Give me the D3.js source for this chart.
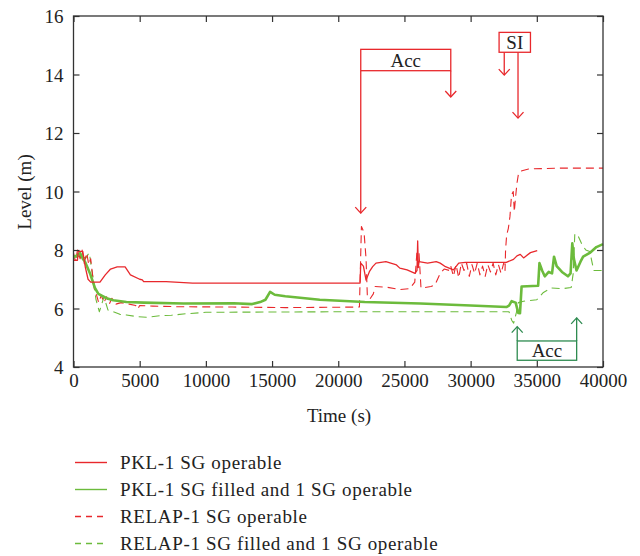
<!DOCTYPE html>
<html><head><meta charset="utf-8">
<script src="https://cdn.jsdelivr.net/npm/d3@7"></script>
<style>
body{margin:0;background:#fff;}
svg text{font-family:"Liberation Serif","Times New Roman",serif;fill:#222;}
</style></head>
<body><svg id="c" width="640" height="556"></svg>
<script>
// ---- data ----
const xTicks = [0,5000,10000,15000,20000,25000,30000,35000,40000];
const yTicks = [4,6,8,10,12,14,16];
const seriesNames = ["PKL-1 SG operable","PKL-1 SG filled and 1 SG operable","RELAP-1 SG operable","RELAP-1 SG filled and 1 SG operable"];

const pklOne = [[0,7.65],[300,7.65],[350,7.95],[700,7.95],[900,7.4],[1100,7.0],[1300,6.9],[2000,6.9],[2400,7.15],[2800,7.35],[3300,7.42],[3900,7.42],[4300,7.15],[5000,7.0],[5200,6.98],[5300,6.92],[7000,6.92],[9000,6.87],[21650,6.87],[21700,7.55],[21900,7.45],[22100,6.97],[22350,7.26],[22600,7.43],[22850,7.55],[23600,7.6],[24400,7.49],[24650,7.38],[25200,7.32],[25800,7.2],[25950,7.3],[26000,8.31],[26050,7.4],[26100,7.6],[26750,7.55],[27400,7.6],[27700,7.55],[28100,7.43],[28700,7.32],[29100,7.55],[29600,7.58],[32700,7.58],[33240,7.68],[33500,7.8],[33750,7.85],[34000,7.73],[34520,7.91],[35030,7.98]];

const pklFilled = [[0,7.75],[200,7.8],[500,7.9],[700,7.7],[870,7.6],[1250,7.2],[1620,6.7],[1880,6.5],[2500,6.35],[3000,6.28],[4000,6.22],[5300,6.2],[8300,6.17],[12100,6.18],[13500,6.15],[14100,6.22],[14500,6.3],[14850,6.57],[15200,6.47],[16000,6.42],[18600,6.3],[22000,6.22],[26200,6.17],[30000,6.1],[32700,6.05],[32900,6.1],[33100,6.25],[33400,6.2],[33600,5.85],[33730,5.84],[33850,6.75],[35100,6.78],[35200,7.55],[35400,7.3],[35600,7.1],[35900,7.25],[36150,7.2],[36300,7.77],[36500,7.45],[36900,7.25],[37350,7.1],[37550,7.2],[37680,8.23],[37800,7.7],[38000,7.3],[38300,7.6],[38500,7.77],[39000,7.9],[39500,8.1],[40000,8.2]];

const relapOne = [[0,7.9],[150,7.6],[300,8.0],[500,7.7],[650,8.0],[800,7.55],[1000,7.9],[1150,7.5],[1300,7.7],[1450,7.1],[1600,6.6],[1750,6.45],[1900,6.2],[2100,6.45],[2300,6.2],[2500,6.4],[2700,6.15],[2900,6.35],[3200,6.15],[3600,6.2],[4200,6.15],[4700,6.1],[4850,5.98],[5000,6.1],[6000,6.08],[8000,6.06],[12000,6.05],[16000,6.03],[21600,6.05],[21750,8.8],[21950,8.6],[22100,7.7],[22200,6.4],[22400,6.33],[22650,6.5],[22780,6.75],[23650,6.73],[24660,6.65],[25400,6.68],[25780,6.9],[25950,7.97],[26100,7.9],[26250,6.7],[27000,6.75],[27300,6.8],[27700,7.2],[28000,7.35],[28400,7.3],[28500,7.45],[28700,7.1],[28900,7.5],[29100,7.05],[29300,7.55],[29500,7.3],[29700,7.55],[29900,7.1],[30100,7.5],[30300,7.2],[30500,7.55],[30700,7.15],[30900,7.45],[31100,7.1],[31300,7.5],[31500,7.25],[31700,7.55],[31900,7.15],[32100,7.5],[32300,7.2],[32500,7.55],[32600,7.3],[32640,8.0],[32720,8.51],[32850,8.74],[32970,9.14],[33090,9.88],[33220,10.0],[33300,9.31],[33400,9.83],[33500,10.28],[33620,10.62],[33880,10.71],[34380,10.77],[36640,10.8],[40000,10.8]];

const relapFilled = [[0,7.8],[300,7.75],[600,7.85],[900,7.7],[1100,7.85],[1200,7.9],[1350,7.4],[1500,7.0],[1700,6.3],[1950,5.89],[2100,6.1],[2300,6.4],[2600,5.95],[3000,5.89],[3500,5.8],[4000,5.78],[4800,5.72],[5500,5.7],[6500,5.75],[7400,5.77],[8500,5.82],[10000,5.87],[15000,5.88],[21700,5.89],[32900,5.89],[33100,5.6],[33250,5.5],[33450,5.85],[33600,6.2],[34000,6.25],[35000,6.3],[35500,6.55],[36100,6.7],[37000,6.68],[37600,6.72],[37750,7.2],[37870,8.55],[38100,8.5],[38400,8.2],[38700,8.0],[39000,7.95],[39300,7.3],[40000,7.3]];

// annotation boxes: [label, tLeft, tRight, vTop, vBottom]
const accRed = ["Acc",21700,28500,14.86,14.13];
const siBox  = ["SI",32150,34520,15.44,14.76];
const accGreen = ["Acc",33520,38010,4.89,4.23];
// arrows: [t, vFrom, vTo]
const redArrows = [[21700,14.13,9.26],[28500,14.13,13.23],[32540,14.76,13.98],[33580,14.76,12.51]];
const greenArrows = [[33520,4.89,5.38],[38010,4.89,5.68]];

// ---- drawing ----
const RED="#e8282c", GREEN="#6cbb3c", DKGREEN="#2e8b50";
const svg=d3.select("#c");
const L=73.5,R=603,T=16,B=367;
const x=d3.scaleLinear().domain([0,40000]).range([L,R]);
const y=d3.scaleLinear().domain([4,16]).range([B,T]);
const line=d3.line().x(d=>x(d[0])).y(d=>y(d[1]));

const series=[
 {data:relapFilled,color:GREEN,dash:"8,5",w:1.1},
 {data:relapOne,color:RED,dash:"8,5",w:1.1},
 {data:pklFilled,color:GREEN,dash:null,w:2.6},
 {data:pklOne,color:RED,dash:null,w:1.3}
];
const g=svg.append("g");
series.forEach(s=>{
  g.append("path").attr("d",line(s.data)).attr("fill","none").attr("stroke",s.color)
   .attr("stroke-width",s.w).attr("stroke-dasharray",s.dash).attr("stroke-linejoin","round");
});

// axes (inward ticks, all sides)
const ax=(a)=>a.tickSizeInner(-6).tickSizeOuter(0).tickPadding(10);
const fs="19px";
const bx=svg.append("g").attr("transform",`translate(0,${B})`).call(ax(d3.axisBottom(x).tickValues(xTicks).tickFormat(d3.format("d"))));
const tx=svg.append("g").attr("transform",`translate(0,${T})`).call(ax(d3.axisTop(x).tickValues(xTicks)).tickFormat(""));
const ly=svg.append("g").attr("transform",`translate(${L},0)`).call(ax(d3.axisLeft(y).tickValues(yTicks)));
const ry=svg.append("g").attr("transform",`translate(${R},0)`).call(ax(d3.axisRight(y).tickValues(yTicks)).tickFormat(""));
[bx,tx,ly,ry].forEach(a=>{
  a.select(".domain").remove();
  a.selectAll("line").attr("stroke","#333").attr("stroke-width",1.2);
  a.selectAll("text").style("font-family",'"Liberation Serif",serif').style("font-size",fs).attr("fill","#222");
});
bx.selectAll("text").attr("dy","0.6em").attr("y",9);
ly.selectAll("text").attr("x",-10).attr("dy","0.35em");
svg.append("rect").attr("x",L).attr("y",T).attr("width",R-L).attr("height",B-T)
  .attr("fill","none").attr("stroke","#333").attr("stroke-width",1.3);

// axis titles
svg.append("text").attr("x",339).attr("y",422).attr("text-anchor","middle").style("font-size",fs).text("Time (s)");
svg.append("text").attr("transform","translate(31,192) rotate(-90)").attr("text-anchor","middle").style("font-size",fs).text("Level (m)");

// annotations
function box(b,color){
  const [lab,t0,t1,v0,v1]=b;
  svg.append("rect").attr("x",x(t0)).attr("y",y(v0)).attr("width",x(t1)-x(t0)).attr("height",y(v1)-y(v0))
    .attr("fill","#fff").attr("stroke",color).attr("stroke-width",1.3);
  svg.append("text").attr("x",(x(t0)+x(t1))/2).attr("y",(y(v0)+y(v1))/2).attr("dy","0.35em")
    .attr("text-anchor","middle").style("font-size","19px").text(lab);
}
function arrow(a,color){
  const [t,v0,v1]=a; const xx=x(t), y0=y(v0), y1=y(v1); const dir=y1>y0?1:-1;
  svg.append("line").attr("x1",xx).attr("x2",xx).attr("y1",y0).attr("y2",y1).attr("stroke",color).attr("stroke-width",1.3);
  svg.append("path").attr("d",`M${xx-5.5},${y1-dir*6}L${xx},${y1}L${xx+5.5},${y1-dir*6}`)
    .attr("fill","none").attr("stroke",color).attr("stroke-width",1.3);
}
redArrows.forEach(a=>arrow(a,RED));
greenArrows.forEach(a=>arrow(a,DKGREEN));
box(accRed,RED); box(siBox,RED); box(accGreen,DKGREEN);

// legend
const leg=[{c:RED,d:null},{c:GREEN,d:null},{c:RED,d:"6,5"},{c:GREEN,d:"6,5"}];
const ly0=[462.5,489.5,516.5,543.5];
leg.forEach((l,i)=>{
  svg.append("line").attr("x1",75).attr("x2",107).attr("y1",ly0[i]).attr("y2",ly0[i])
    .attr("stroke",l.c).attr("stroke-width",1.4).attr("stroke-dasharray",l.d);
  svg.append("text").attr("x",120).attr("y",ly0[i]).attr("dy","0.35em").style("font-size","19px")
    .style("letter-spacing","0.65px").text(seriesNames[i]);
});
</script></body></html>
